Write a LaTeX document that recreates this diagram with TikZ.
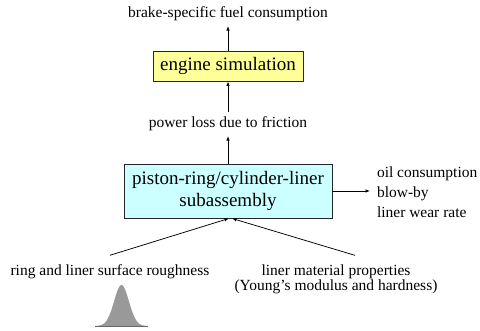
\documentclass[tikz,border=0pt]{standalone}
\usepackage{fontspec}
\setmainfont{Liberation Serif}
\usetikzlibrary{arrows.meta}
\definecolor{boxyellow}{HTML}{FFFF99}
\definecolor{boxcyan}{HTML}{CCFFFF}
\begin{document}
\begin{tikzpicture}[x=1pt,y=1pt,
  lbl/.style={inner sep=0pt, outer sep=5pt, font=\fontsize{15.5}{20}\selectfont},
  boxy/.style={draw=black!85, line width=0.9pt, font=\fontsize{19}{22}\selectfont, inner sep=0pt, align=center},
  arr/.style={-{Latex[length=4.5pt,width=3.5pt]}, line width=0.75pt}]
\useasboundingbox (0,0) rectangle (480,331);
% top output
\node[lbl] (bsfc) at (228,317) {brake-specific fuel consumption};
\node[boxy, fill=boxyellow, minimum width=150, minimum height=30] (eng) at (228,265) {engine simulation};
\node[lbl] (pow) at (228,207) {power loss due to friction};
\node[boxy, fill=boxcyan, minimum width=208, minimum height=54] (sub) at (228,140) {piston-ring/cylinder-liner\\subassembly};
\node[lbl, anchor=west, align=left, outer sep=0pt] (out) at (377,138.3) {oil consumption\\blow-by\\liner wear rate};
\node[lbl, outer sep=9pt] (lin) at (110,59.6) {ring and liner surface roughness};
\node[lbl, outer sep=9pt, align=center, font=\fontsize{15.5}{15}\selectfont] (rin) at (336,52.1) {liner material properties\\(Young’s modulus and hardness)};
% connectors
\draw[arr] (eng.north) -- (bsfc.south);
\draw[arr] (pow.north) -- (eng.south);
\draw[arr] (sub.north) -- (pow.south);
\draw[arr] (sub.east) -- ([xshift=-7pt]sub.east -| out.west);
\draw[arr] (lin.north) -- ([xshift=1pt]sub.south);
\draw[arr] ([xshift=19pt]rin.north) -- ([xshift=4pt]sub.south);
% gaussian
\fill[black!40] plot[domain=95:148, samples=80] (\x, {5 + 41*exp(-((\x-121.5)^2)/(2*7.4^2))}) -- cycle;
\draw[black!60, line width=0.8pt] (95,5) -- (148,5);
\end{tikzpicture}
\end{document}
